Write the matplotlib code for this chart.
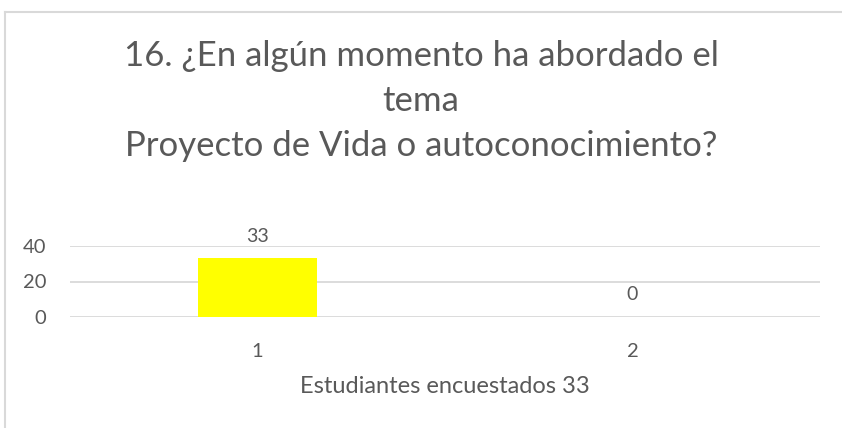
import matplotlib
matplotlib.use("Agg")
import matplotlib.pyplot as plt
from matplotlib.lines import Line2D

# data
categories = ["1", "2"]
values = [33, 0]
y_ticks = [0, 20, 40]
title = "16. ¿En algún momento ha abordado el\ntema\nProyecto de Vida o autoconocimiento?"
x_label = "Estudiantes encuestados 33"

text_grey = "#595959"
grid_grey = "#d9d9d9"

plt.rcParams["font.family"] = ["Lato", "DejaVu Sans"]

fig = plt.figure(figsize=(8.42, 4.28), dpi=100)
ax = fig.add_axes([70 / 842, 1 - 317 / 428, 750 / 842, 71 / 428])

positions = range(len(categories))
bars = ax.bar(positions, values, width=0.315, color="#ffff00")
ax.set_xlim(-0.5, len(categories) - 0.5)
ax.set_ylim(0, 40)
ax.set_yticks(y_ticks)
ax.set_xticks(list(positions))
ax.set_xticklabels(categories)

# labels above the bars
for rect, v in zip(bars, values):
    ax.annotate(str(v), (rect.get_x() + rect.get_width() / 2, rect.get_height()),
                xytext=(0, 10), textcoords="offset points",
                ha="center", va="bottom", fontsize=14, color=text_grey)

ax.grid(axis="y", color=grid_grey, linewidth=1.3)
ax.set_axisbelow(True)
for s in ax.spines.values():
    s.set_visible(False)
ax.tick_params(length=0, labelsize=14.5, labelcolor=text_grey)
ax.tick_params(axis="x", pad=19)
ax.tick_params(axis="y", pad=17)

ax.set_xlabel(x_label, fontsize=17, color=text_grey, labelpad=11)

fig.text(0.5, 1 - 101 / 428, title, ha="center", va="center",
         fontsize=25, color=text_grey, linespacing=1.5)

# chart frame (top and left edges visible)
fig.add_artist(Line2D([5 / 842, 5 / 842], [0, 1 - 12 / 428],
                      transform=fig.transFigure, color=grid_grey, linewidth=1.5))
fig.add_artist(Line2D([5 / 842, 1], [1 - 12 / 428, 1 - 12 / 428],
                      transform=fig.transFigure, color=grid_grey, linewidth=1.5))

fig.savefig("out.png", dpi=100)
